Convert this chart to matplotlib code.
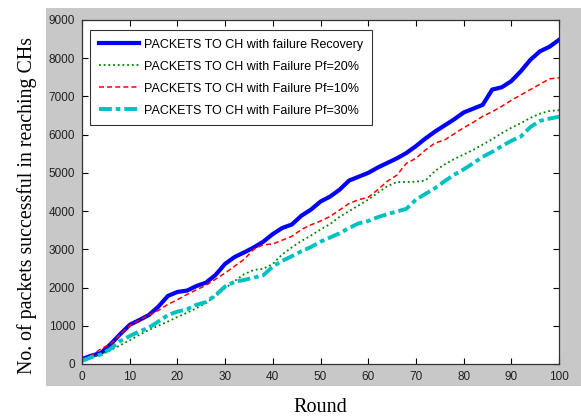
import matplotlib.pyplot as plt
from matplotlib.patches import Rectangle

rounds = list(range(0, 101, 2))

recovery = [130, 220, 290, 520, 780, 1025, 1150, 1280, 1500, 1780, 1885, 1920, 2040, 2130,
            2330, 2620, 2800, 2920, 3050, 3200, 3400, 3560, 3650, 3880, 4040, 4250, 4380,
            4560, 4800, 4900, 5000, 5140, 5260, 5380, 5520, 5700, 5900, 6080, 6240, 6400,
            6580, 6680, 6780, 7180, 7240, 7400, 7660, 7960, 8180, 8300, 8480]
pf20 = [100, 170, 250, 360, 490, 620, 760, 890, 1000, 1110, 1230, 1340, 1460, 1600, 1780,
        1980, 2170, 2350, 2460, 2490, 2620, 2870, 3050, 3220, 3360, 3520, 3660, 3850, 4000,
        4150, 4300, 4480, 4650, 4760, 4760, 4770, 4800, 5050, 5220, 5360, 5480, 5600, 5740,
        5880, 6040, 6180, 6300, 6440, 6550, 6620, 6640]
pf10 = [130, 230, 400, 520, 780, 1000, 1150, 1280, 1400, 1560, 1680, 1820, 1940, 2060, 2220,
        2380, 2560, 2740, 3000, 3120, 3140, 3240, 3340, 3520, 3640, 3740, 3860, 4030, 4200,
        4300, 4360, 4560, 4780, 4940, 5250, 5380, 5600, 5780, 5860, 6020, 6180, 6320, 6480,
        6600, 6740, 6900, 7040, 7180, 7320, 7460, 7490]
pf30 = [80, 180, 250, 400, 600, 730, 850, 950, 1110, 1280, 1370, 1430, 1550, 1620, 1800,
        2030, 2150, 2200, 2260, 2320, 2550, 2700, 2820, 2950, 3060, 3200, 3310, 3420, 3560,
        3680, 3740, 3840, 3920, 3990, 4060, 4300, 4450, 4600, 4780, 4950, 5090, 5250, 5420,
        5550, 5700, 5840, 5950, 6200, 6360, 6420, 6470]

labels = ['PACKETS TO CH with failure Recovery',
          'PACKETS TO CH with Failure Pf=20%',
          'PACKETS TO CH with Failure Pf=10%',
          'PACKETS TO CH with Failure Pf=30%']

plt.rcParams['font.family'] = ['Liberation Sans', 'DejaVu Sans']

fig = plt.figure(figsize=(5.81, 4.20), dpi=100)
fig.patch.set_facecolor('white')
# grey frame behind the axes, like a MATLAB figure window
fig.patches.append(Rectangle((46 / 581, 1 - 386 / 420), 1 - 46 / 581, (386 - 8) / 420,
                             transform=fig.transFigure, facecolor='#c8c8c8',
                             edgecolor='none', zorder=-5))

ax = fig.add_axes([82 / 581, 1 - 364 / 420, 477 / 581, 344 / 420])
ax.set_zorder(1)
ax.plot(rounds, recovery, '-', color='#0000ff', lw=3.0, label=labels[0])
ax.plot(rounds, pf20, linestyle=(0, (1, 1.6)), color='#008000', lw=1.3, label=labels[1])
ax.plot(rounds, pf10, linestyle=(0, (3.3, 2.0)), color='#ff0000', lw=1.1, label=labels[2])
ax.plot(rounds, pf30, linestyle=(0, (3.3, 1.0, 1.2, 1.0)), color='#00c0c0', lw=2.8,
        label=labels[3])

ax.set_xlim(0, 100)
ax.set_ylim(0, 9000)
ax.set_xticks(range(0, 101, 10))
ax.set_yticks(range(0, 9001, 1000))
ax.tick_params(direction='in', top=True, right=True, length=4, width=0.8,
               labelsize=8.5, labelcolor='#222222', pad=5)
for s in ax.spines.values():
    s.set_linewidth(0.9)
    s.set_color('#333333')

leg = ax.legend(loc='upper left', bbox_to_anchor=(0.0168, 0.971), fontsize=9,
                frameon=True, fancybox=False, handlelength=3.2, handletextpad=0.4,
                labelspacing=0.8, borderpad=0.7, borderaxespad=0)
leg.get_frame().set_edgecolor('black')
leg.get_frame().set_linewidth(0.8)

serif = ['Liberation Serif', 'DejaVu Serif']
fig.text(320 / 581, 1 - 408 / 420, 'Round', family=serif, fontsize=14.5,
         ha='center', va='center')
fig.text(27 / 581, 1 - 205 / 420, 'No. of packets successful in reaching CHs',
         family=serif, fontsize=14.3, rotation=90, ha='center', va='center')

fig.savefig('out.png', dpi=100, facecolor='white')
